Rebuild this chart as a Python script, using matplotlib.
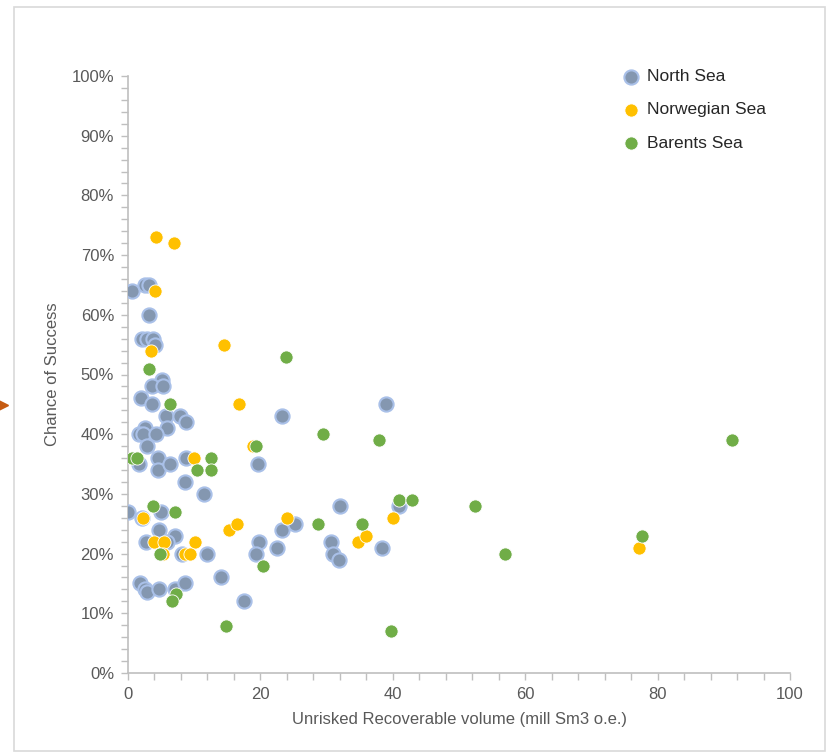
import numpy as np
import matplotlib
matplotlib.use("Agg")
import matplotlib.pyplot as plt
from matplotlib.ticker import MultipleLocator, FuncFormatter
from matplotlib.patches import Rectangle
from matplotlib.lines import Line2D

plt.rcParams['font.family'] = ['Liberation Sans Narrow', 'Liberation Sans', 'DejaVu Sans']

# values (volume, chance of success in %)
north_x = [0.6, 2.5, 3.1, 3.1, 2.1, 2.8, 3.8, 4.1, 5.2, 3.7, 5.3, 1.9, 3.7, 5.7, 7.9,
           8.7, 2.6, 5.9, 1.6, 2.3, 4.3, 2.8, 1.7, 4.6, 4.6, 6.3, 8.7, 8.6, 11.5, 0.0,
           5.0, 2.1, 4.7, 7.1, 2.7, 5.9, 8.1, 12.0, 1.8, 2.5, 2.8, 4.7, 7.1, 8.6, 14.0,
           17.5, 19.7, 19.8, 19.3, 22.5, 23.2, 25.2, 23.2, 39.0, 32.0, 40.9, 30.6, 31.0,
           31.8, 38.4]
north_y = [64, 65, 65, 60, 56, 56, 56, 55, 49, 48, 48, 46, 45, 43, 43,
           42, 41, 41, 40, 40, 40, 38, 35, 36, 34, 35, 36, 32, 30, 27,
           27, 26, 24, 23, 22, 22, 20, 20, 15, 14, 13.5, 14, 14, 15, 16,
           12, 35, 22, 20, 21, 24, 25, 43, 45, 28, 28, 22, 20,
           19, 21]

norw_x = [4.3, 6.9, 4.1, 3.5, 14.5, 16.7, 18.9, 9.9, 2.3, 15.2, 16.5, 24.0, 4.0, 5.5,
          10.1, 5.3, 8.6, 9.4, 34.8, 36.0, 40.0, 77.2]
norw_y = [73, 72, 64, 54, 55, 45, 38, 36, 26, 24, 25, 26, 22, 22,
          22, 20, 20, 20, 22, 23, 26, 21]

bar_x = [3.1, 6.3, 19.4, 0.6, 1.3, 12.6, 10.4, 12.6, 3.8, 7.1, 4.9, 20.4, 7.25, 6.7,
         14.8, 23.9, 29.5, 37.9, 40.9, 42.9, 28.7, 35.4, 39.7, 91.2, 52.4, 77.7, 56.9]
bar_y = [51, 45, 38, 36, 36, 36, 34, 34, 28, 27, 20, 18, 13.2, 12,
         7.8, 53, 40, 39, 29, 29, 25, 25, 7, 39, 28, 23, 20]

fig = plt.figure(figsize=(8.27, 7.53), dpi=100)
ax = fig.add_axes([128/827, 1-673/753, 662/827, 597/753])

ax.scatter(north_x, north_y, s=105, color='#8497B0', edgecolors='#A9C0E8', linewidths=1.5,
           label='North Sea', zorder=3)
ax.scatter(norw_x, norw_y, s=90, color='#FFC000', edgecolors='white', linewidths=0.6,
           label='Norwegian Sea', zorder=4)
ax.scatter(bar_x, bar_y, s=90, color='#70AD47', edgecolors='white', linewidths=0.6,
           label='Barents Sea', zorder=5)

ax.set_xlim(0, 100)
ax.set_ylim(0, 100)
ax.xaxis.set_major_locator(MultipleLocator(20))
ax.xaxis.set_minor_locator(MultipleLocator(4))
ax.yaxis.set_major_locator(MultipleLocator(10))
ax.yaxis.set_minor_locator(MultipleLocator(2))
ax.yaxis.set_major_formatter(FuncFormatter(lambda v, p: f"{v:.0f}%"))

for side in ['top', 'right']:
    ax.spines[side].set_visible(False)
for side in ['left', 'bottom']:
    ax.spines[side].set_color('#BFBFBF')
    ax.spines[side].set_linewidth(1.2)
ax.tick_params(which='both', direction='out', color='#BFBFBF', length=5, width=1)
ax.tick_params(which='major', labelsize=12, labelcolor='#595959', pad=5)

ax.set_xlabel('Unrisked Recoverable volume (mill Sm3 o.e.)', fontsize=12, color='#595959', labelpad=7)
ax.set_ylabel('Chance of Success', fontsize=12, color='#595959', labelpad=8)

leg = ax.legend(loc='upper left', bbox_to_anchor=(614/827, 1-62/753), bbox_transform=fig.transFigure,
                frameon=False, fontsize=12.5, labelspacing=1.05, handletextpad=0.3,
                handlelength=1.2, borderaxespad=0)
for t in leg.get_texts():
    t.set_color('#262626')

# chart frame
fig.patches.append(Rectangle((14/827, 1-751/753), 811/827, 744/753, transform=fig.transFigure,
                             fill=False, edgecolor='#D9D9D9', linewidth=1.2))
# small orange marker on the left edge
fig.add_artist(Line2D([3/827], [1-405/753], marker='>', color='#C55A11', markersize=7,
                      transform=fig.transFigure))

fig.savefig('out.png', dpi=100)
